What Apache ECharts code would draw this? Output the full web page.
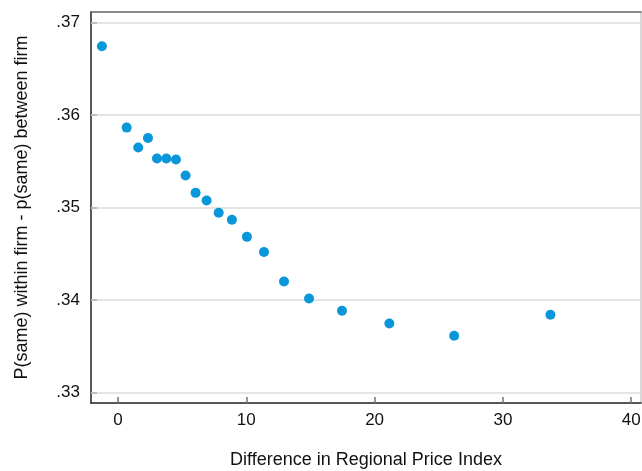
<!DOCTYPE html>
<html>
<head>
<meta charset="utf-8">
<script src="https://cdn.jsdelivr.net/npm/echarts@6/dist/echarts.min.js"></script>
<style>
html,body{margin:0;padding:0;background:#fff;}
#chart{width:642px;height:471px;}
</style>
</head>
<body>
<div id="chart"></div>
<script>
var xValues = [-1.25, 0.68, 1.58, 2.34, 3.04, 3.77, 4.52, 5.27, 6.05, 6.91, 7.85, 8.88, 10.05, 11.38, 12.94, 14.89, 17.46, 21.15, 26.2, 33.7];
var yValues = [0.36745, 0.35865, 0.35649, 0.35753, 0.3553, 0.3553, 0.3552, 0.35346, 0.35159, 0.35076, 0.34943, 0.34867, 0.34683, 0.34518, 0.342, 0.34016, 0.33883, 0.33746, 0.33613, 0.3384];
var xTicks = [0, 10, 20, 30, 40];
var yTicks = [0.33, 0.34, 0.35, 0.36, 0.37];
var xTitle = 'Difference in Regional Price Index';
var yTitle = 'P(same) within firm - p(same) between firm';

var points = xValues.map(function (x, i) { return [x, yValues[i]]; });
var xMin = -2.1, xMax = 40.76, yMin = 0.32885, yMax = 0.37116;
var font = 'Liberation Sans, Arial, sans-serif';

var chart = echarts.init(document.getElementById('chart'));
chart.setOption({
  animation: false,
  grid: {left: 91, right: 1, top: 12, bottom: 68, containLabel: false, outerBoundsMode: 'none'},
  xAxis: [{
    type: 'value', min: xMin, max: xMax, position: 'bottom',
    name: xTitle, nameLocation: 'middle', nameGap: 48,
    nameTextStyle: {fontFamily: font, fontSize: 18, color: '#111'},
    axisLine: {show: true, onZero: false, lineStyle: {color: '#222', width: 1.5}},
    axisTick: {show: true, inside: true, length: 6, customValues: xTicks, lineStyle: {color: '#777', width: 1.5}},
    axisLabel: {show: true, margin: 9, customValues: xTicks, fontFamily: font, fontSize: 17, color: '#111',
      formatter: function (v) { return String(v); }},
    splitLine: {show: false}
  }, {
    type: 'value', min: xMin, max: xMax, position: 'top',
    axisLine: {show: true, onZero: false, lineStyle: {color: '#666', width: 1.5}},
    axisTick: {show: false}, axisLabel: {show: false}, splitLine: {show: false}
  }],
  yAxis: [{
    type: 'value', min: yMin, max: yMax, position: 'left',
    name: yTitle, nameLocation: 'middle', nameGap: 60,
    nameTextStyle: {fontFamily: font, fontSize: 18, color: '#111'},
    axisLine: {show: true, onZero: false, lineStyle: {color: '#222', width: 1.5}},
    axisTick: {show: true, inside: true, length: 6, customValues: yTicks, lineStyle: {color: '#333', width: 1.5}},
    axisLabel: {show: true, margin: 11, customValues: yTicks, fontFamily: font, fontSize: 17, color: '#111',
      formatter: function (v) { return String(Math.round(v * 100) / 100).replace(/^0/, ''); }},
    splitLine: {show: false}
  }, {
    type: 'value', min: yMin, max: yMax, position: 'right',
    axisLine: {show: true, onZero: false, lineStyle: {color: '#ccc', width: 1.5}},
    axisTick: {show: false}, axisLabel: {show: false}, splitLine: {show: false}
  }],
  series: [{
    type: 'scatter',
    xAxisIndex: 0, yAxisIndex: 0,
    data: points,
    symbol: 'circle',
    symbolSize: 10,
    itemStyle: {color: '#0a97d9', opacity: 1},
    z: 5,
    markLine: {
      silent: true, symbol: ['none', 'none'], label: {show: false},
      lineStyle: {color: '#dcdcdc', width: 1.5, type: 'solid'},
      data: yTicks.map(function (v) { return {yAxis: v}; }),
      z: 1
    }
  }]
});
</script>
</body>
</html>
